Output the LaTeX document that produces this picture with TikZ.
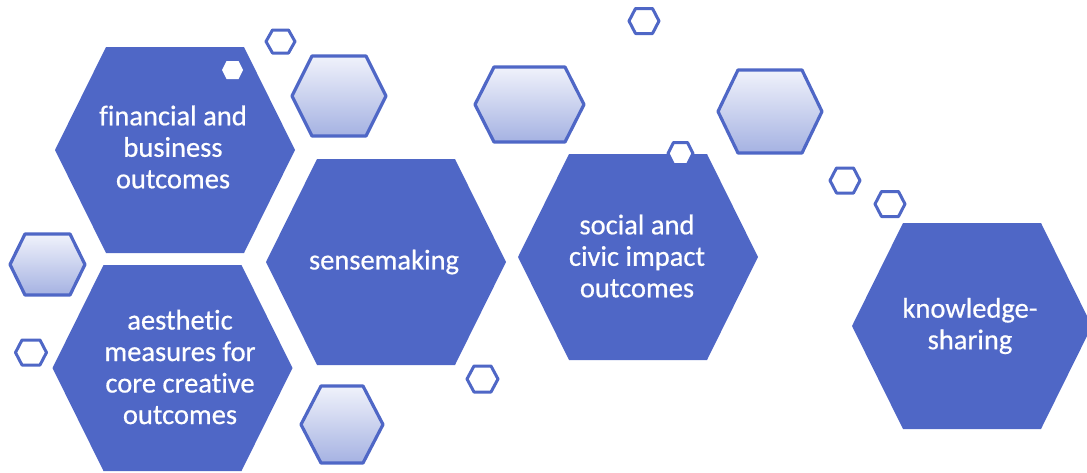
\documentclass[tikz,border=0pt]{standalone}
\usepackage{fontspec}
\setmainfont[Ligatures=NoCommon, FakeBold=0.6]{Carlito}
\definecolor{hexblue}{HTML}{4F67C6}
\definecolor{gradtop}{HTML}{F0F2FB}
\definecolor{gradbot}{HTML}{A5B2E2}
\newcommand\hexagon[6]{%
  \path[#1] (#2-#4,#3) -- (#2-#4+#6,#3-#5) -- (#2+#4-#6,#3-#5) -- (#2+#4,#3)
    -- (#2+#4-#6,#3+#5) -- (#2-#4+#6,#3+#5) -- cycle;}
\tikzset{
  bighex/.style={fill=hexblue},
  gradhex/.style={top color=gradtop, bottom color=gradbot, draw=hexblue, line width=3.2pt, line join=round},
  tinyhex/.style={fill=white, draw=hexblue, line width=3pt, line join=round},
  innerhex/.style={fill=white},
  label/.style={text=white, align=center, font=\fontsize{28.5}{31.5}\selectfont, inner sep=0pt}
}
\begin{document}
\begin{tikzpicture}[x=1pt,y=-1pt]
\useasboundingbox (0,0) rectangle (1087,472);
% big hexagons
\hexagon{bighex}{175}{150}{120}{103}{51}
\hexagon{bighex}{172.5}{368}{120}{103}{51}
\hexagon{bighex}{386}{262}{120}{103}{51}
\hexagon{bighex}{638}{257}{120}{103}{51}
\hexagon{bighex}{972}{326}{120}{103}{51}
% gradient hexagons
\hexagon{gradhex}{339}{96}{47}{40}{20}
\hexagon{gradhex}{47.5}{264.5}{37.5}{30.5}{15}
\hexagon{gradhex}{529.5}{104.5}{54.5}{37.5}{19}
\hexagon{gradhex}{342}{424.5}{41}{38.5}{20}
\hexagon{gradhex}{770}{111.5}{52}{41.5}{20}
% tiny hexagons
\hexagon{tinyhex}{280.5}{41.5}{14.5}{11.5}{6.5}
\hexagon{tinyhex}{644}{21}{15}{12.5}{6.5}
\hexagon{tinyhex}{845}{180.5}{15}{12.5}{6.5}
\hexagon{tinyhex}{890}{204}{15}{12.5}{6.5}
\hexagon{tinyhex}{482.5}{379}{15.5}{13}{7}
\hexagon{tinyhex}{31}{352.5}{15.5}{12.5}{6.5}
\hexagon{tinyhex}{680.5}{153.5}{12.5}{11}{5.5}
\hexagon{innerhex}{232.5}{70}{10.5}{9}{4.5}
% labels
\node[label] (fin) at (173,147) {financial and\\business\\outcomes};
\node[label] (aes) at (180,367) {aesthetic\\measures for\\core creative\\outcomes};
\node[label] (sen) at (384,262) {sensemaking};
\node[label] (soc) at (637,256) {social and\\civic impact\\outcomes};
\node[label] (kno) at (970,326) {knowledge-\\sharing};
\end{tikzpicture}
\end{document}
